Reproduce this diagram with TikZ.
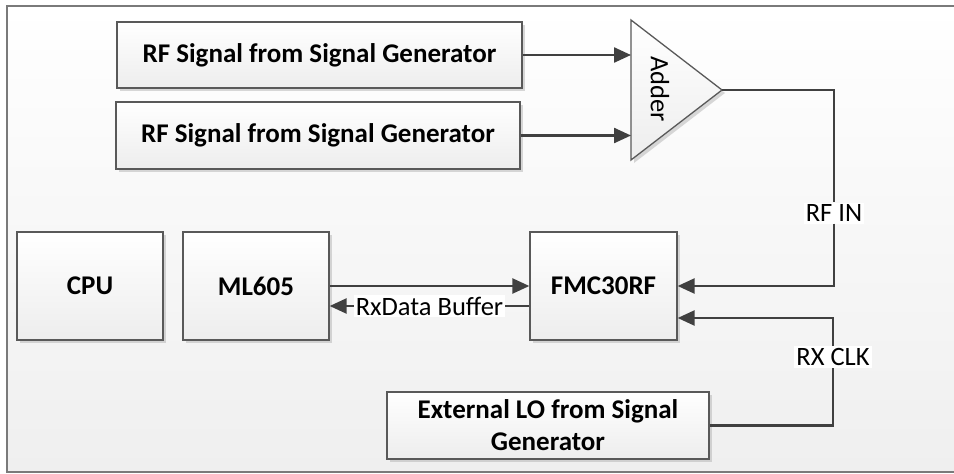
\documentclass[tikz,border=0pt]{standalone}
\usepackage{fontspec}
\setmainfont{Carlito}
\usetikzlibrary{arrows.meta,shadows}
\definecolor{wire}{HTML}{404040}
\definecolor{edge}{HTML}{595959}
\definecolor{panel}{HTML}{EFEFEF}
\begin{document}
\begin{tikzpicture}[x=1pt,y=-1pt,>={Triangle[length=17pt,width=15pt]},
    blk/.style={draw=edge,line width=1.3pt,top color=white,bottom color=gray!14,
      drop shadow={shadow xshift=3pt,shadow yshift=-3pt,fill=gray!60,opacity=0.5},
      font=\fontsize{27}{32}\selectfont\bfseries,align=center,inner sep=0pt},
    wireline/.style={draw=wire,line width=2.4pt},
    lbl/.style={fill=white,font=\fontsize{26.5}{30}\selectfont,inner sep=2pt}]
    \useasboundingbox (0,0) rectangle (954,474);
    \shade[top color=white,bottom color=panel] (7,6) rectangle (960,472);
    \draw[edge!80,line width=1.5pt] (7,6) rectangle (960,472);
    % sources and adder
    \node[blk,minimum width=405,minimum height=66] (rf1) at (319.5,55) {RF Signal from Signal Generator};
    \node[blk,minimum width=404,minimum height=67] (rf2) at (318,135.5) {RF Signal from Signal Generator};
    \draw[edge,line width=1.3pt,top color=white,bottom color=gray!14,
      drop shadow={shadow xshift=3pt,shadow yshift=-3pt,fill=gray!60,opacity=0.5}]
      (631,20) coordinate (addin) -- (722,90) coordinate (addout) -- (631,160) -- cycle;
    \node[rotate=-90,font=\fontsize{26.5}{30}\selectfont] (adder) at (660,89) {Adder};
    \draw[wireline,->] (rf1.east) -- (rf1.east -| addin);
    \draw[wireline,->] (rf2.east) -- (rf2.east -| addin);
    % boards
    \node[blk,minimum width=146,minimum height=108] (cpu) at (90,286) {CPU};
    \node[blk,minimum width=146,minimum height=108] (ml605) at (256,286) {ML605};
    \node[blk,minimum width=147,minimum height=108] (fmc) at (603.5,286) {FMC30RF};
    \node[blk,minimum width=322,minimum height=67] (extlo) at (548,425.5) {External LO from Signal\\Generator};
    \draw[wireline,->] (ml605.east) -- (fmc.west);
    \draw[wireline,->] ([yshift=-20pt]fmc.west) -- ([yshift=-20pt]ml605.east)
      node[lbl,pos=0.5] (rxbuf) {RxData Buffer};
    % RF input and clock
    \node[lbl] (rfin) at (834,213) {RF IN};
    \draw[wireline] (addout) -| (rfin.north);
    \draw[wireline,->] (rfin.south) |- (fmc.east);
    \node[lbl] (rxclk) at (833,357) {RX CLK};
    \draw[wireline] (extlo.east) -| (rxclk.south);
    \draw[wireline,->] (rxclk.north) |- ([yshift=-32pt]fmc.east);
\end{tikzpicture}
\end{document}
